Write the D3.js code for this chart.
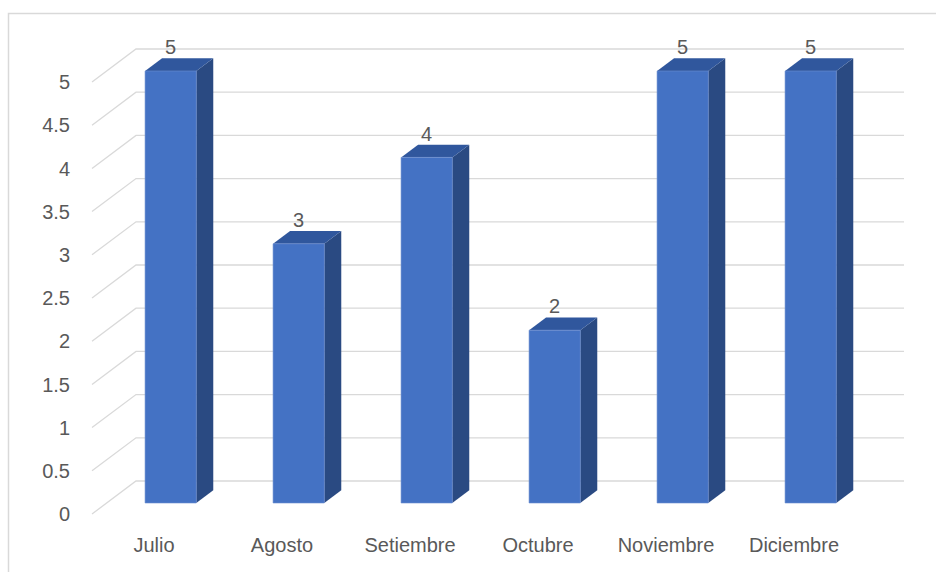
<!DOCTYPE html>
<html>
<head>
<meta charset="utf-8">
<script src="https://cdn.jsdelivr.net/npm/d3@7"></script>
<style>
  html, body { margin: 0; padding: 0; background: #ffffff; }
  svg { display: block; }
  text { font-family: "Segoe UI", "Liberation Sans", Arial, sans-serif; fill: #595959; }
</style>
</head>
<body>
<svg id="chart" width="936" height="572"></svg>
<script>
// Monthly counts, July to December
const months = ["Julio", "Agosto", "Setiembre", "Octubre", "Noviembre", "Diciembre"];
const counts = [5, 3, 4, 2, 5, 5];
const tickValues = [0, 0.5, 1, 1.5, 2, 2.5, 3, 3.5, 4, 4.5, 5];
const tickLabels = ["0", "0.5", "1", "1.5", "2", "2.5", "3", "3.5", "4", "4.5", "5"];

const svg = d3.select("#chart");

// Oblique 3D projection: z = 0 is the front plane, z = 1 the back wall
const DX = 44, DY = -33;
const x = d3.scaleBand().domain(months).range([92, 860]).paddingInner(0.6).paddingOuter(0.3);
const xStep = d3.scaleBand().domain(months).range([92, 860]);
const y = d3.scaleLinear().domain([0, 5]).range([514, 82]);
const proj = (xw, v, z) => [xw + DX * z, y(v) + DY * z];

// Chart frame (left and top edges)
svg.append("path")
  .attr("d", "M8.5,600 L8.5,13.5 L940,13.5")
  .attr("fill", "none")
  .attr("stroke", "#d9d9d9")
  .attr("stroke-width", 1.5);

// Gridlines: floor diagonal on the side wall + horizontal line on the back wall
const grid = svg.append("g").attr("stroke", "#d9d9d9").attr("stroke-width", 1.3).attr("fill", "none");
tickValues.forEach(v => {
  const a = proj(92, v, 0), b = proj(92, v, 1), c = proj(860, v, 1);
  grid.append("path").attr("d", `M${a[0]},${a[1]} L${b[0]},${b[1]} L${c[0]},${c[1]}`);
});

// Y tick labels
svg.append("g").selectAll("text")
  .data(tickValues)
  .join("text")
  .attr("x", 70)
  .attr("y", (v) => y(v))
  .attr("dy", "0.36em")
  .attr("text-anchor", "end")
  .attr("font-size", 20)
  .text((v, i) => tickLabels[i]);

// Columns
const z0 = 1 / 3, z1 = z0 + 17 / 44;
const data = months.map((m, i) => ({ m, v: counts[i] }));
const poly = pts => "M" + pts.map(p => p.join(",")).join("L") + "Z";
const bars = svg.append("g");
data.forEach(d => {
  const x0 = x(d.m), x1 = x0 + x.bandwidth();
  // side face
  bars.append("path")
    .attr("d", poly([proj(x1, 0, z0), proj(x1, d.v, z0), proj(x1, d.v, z1), proj(x1, 0, z1)]))
    .attr("fill", "#2a4a82");
  // top face
  bars.append("path")
    .attr("d", poly([proj(x0, d.v, z0), proj(x1, d.v, z0), proj(x1, d.v, z1), proj(x0, d.v, z1)]))
    .attr("fill", "#30579d");
  // front face
  bars.append("path")
    .attr("d", poly([proj(x0, 0, z0), proj(x1, 0, z0), proj(x1, d.v, z0), proj(x0, d.v, z0)]))
    .attr("fill", "#4472c4")
    .attr("stroke", "#6d8fd2")
    .attr("stroke-width", 0.6);
});

// Value labels above each column
svg.append("g").selectAll("text")
  .data(data)
  .join("text")
  .attr("x", d => proj(x(d.m) + x.bandwidth() / 2, d.v, z0)[0])
  .attr("y", d => proj(x(d.m), d.v, z1)[1] - 4)
  .attr("text-anchor", "middle")
  .attr("font-size", 20)
  .text(d => d.v);

// Category labels along the front edge
svg.append("g").selectAll("text")
  .data(months)
  .join("text")
  .attr("x", m => xStep(m) + xStep.bandwidth() / 2 - 2)
  .attr("y", 552)
  .attr("text-anchor", "middle")
  .attr("font-size", 20)
  .text(m => m);
</script>
</body>
</html>
